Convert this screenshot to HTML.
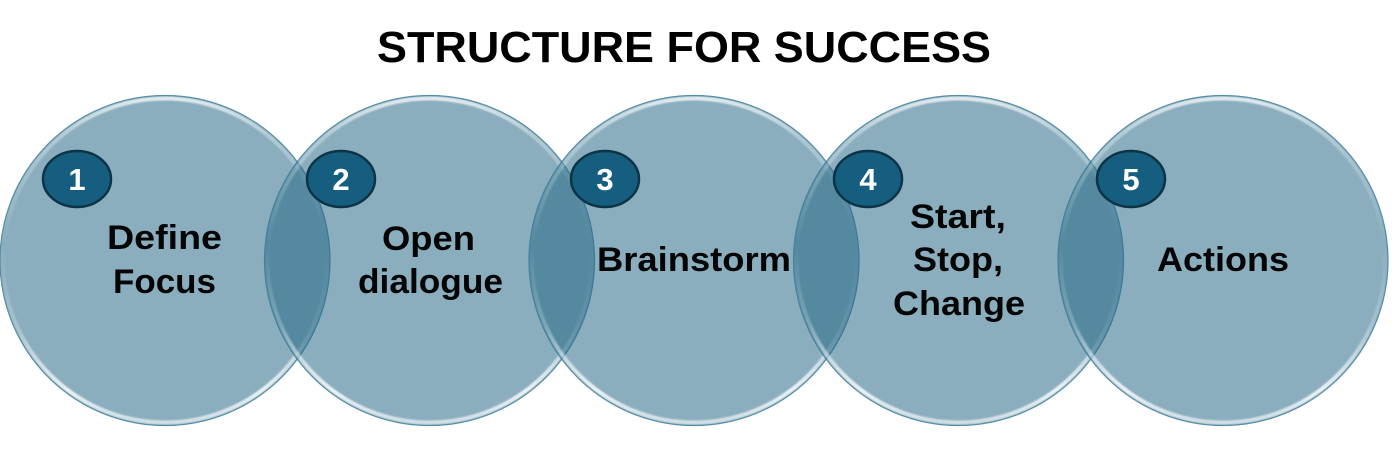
<!DOCTYPE html>
<html>
<head>
<meta charset="utf-8">
<style>
html,body{margin:0;padding:0;background:#fff;}
svg{display:block;}
</style>
</head>
<body>
<svg width="1392" height="454" viewBox="0 0 1392 454" xmlns="http://www.w3.org/2000/svg">
<defs>
<linearGradient id="rim" x1="0" y1="0" x2="0" y2="1">
<stop offset="0" stop-color="#ffffff" stop-opacity="0.75"/>
<stop offset="0.12" stop-color="#ffffff" stop-opacity="0.35"/>
<stop offset="0.45" stop-color="#ffffff" stop-opacity="0"/>
<stop offset="0.7" stop-color="#ffffff" stop-opacity="0.25"/>
<stop offset="0.9" stop-color="#ffffff" stop-opacity="0.85"/>
<stop offset="1" stop-color="#ffffff" stop-opacity="0.6"/>
</linearGradient>
<filter id="soft" x="-5%" y="-5%" width="110%" height="110%">
<feGaussianBlur stdDeviation="0.8"/>
</filter>
</defs>

<text x="377" y="62" font-family="Liberation Sans, Arial, sans-serif" font-weight="bold" font-size="44" textLength="614" lengthAdjust="spacingAndGlyphs" fill="#000">STRUCTURE FOR SUCCESS</text>

<g>
<circle cx="165" cy="260.5" r="165.5" fill="rgb(39,105,135)" fill-opacity="0.54"/>
<circle cx="165" cy="260.5" r="162" fill="none" stroke="url(#rim)" stroke-width="4" filter="url(#soft)"/>
<circle cx="165" cy="260.5" r="165" fill="none" stroke="rgba(60,125,155,0.7)" stroke-width="1.2"/>
</g>
<g>
<circle cx="429.5" cy="260.5" r="165.5" fill="rgb(39,105,135)" fill-opacity="0.54"/>
<circle cx="429.5" cy="260.5" r="162" fill="none" stroke="url(#rim)" stroke-width="4" filter="url(#soft)"/>
<circle cx="429.5" cy="260.5" r="165" fill="none" stroke="rgba(60,125,155,0.7)" stroke-width="1.2"/>
</g>
<g>
<circle cx="694" cy="260.5" r="165.5" fill="rgb(39,105,135)" fill-opacity="0.54"/>
<circle cx="694" cy="260.5" r="162" fill="none" stroke="url(#rim)" stroke-width="4" filter="url(#soft)"/>
<circle cx="694" cy="260.5" r="165" fill="none" stroke="rgba(60,125,155,0.7)" stroke-width="1.2"/>
</g>
<g>
<circle cx="958.5" cy="260.5" r="165.5" fill="rgb(39,105,135)" fill-opacity="0.54"/>
<circle cx="958.5" cy="260.5" r="162" fill="none" stroke="url(#rim)" stroke-width="4" filter="url(#soft)"/>
<circle cx="958.5" cy="260.5" r="165" fill="none" stroke="rgba(60,125,155,0.7)" stroke-width="1.2"/>
</g>
<g>
<circle cx="1223" cy="260.5" r="165.5" fill="rgb(39,105,135)" fill-opacity="0.54"/>
<circle cx="1223" cy="260.5" r="162" fill="none" stroke="url(#rim)" stroke-width="4" filter="url(#soft)"/>
<circle cx="1223" cy="260.5" r="165" fill="none" stroke="rgba(60,125,155,0.7)" stroke-width="1.2"/>
</g>

<g fill="#155e7f" stroke="#0d3446" stroke-width="2.5">
<ellipse cx="77" cy="179" rx="34" ry="28"/>
<ellipse cx="341" cy="179" rx="34" ry="28"/>
<ellipse cx="605" cy="179" rx="34" ry="28"/>
<ellipse cx="868" cy="179" rx="34" ry="28"/>
<ellipse cx="1131" cy="179" rx="34" ry="28"/>
</g>
<g font-family="Liberation Sans, Arial, sans-serif" font-weight="bold" font-size="31" fill="#fff" text-anchor="middle">
<text x="77" y="190">1</text>
<text x="341" y="190">2</text>
<text x="605" y="190">3</text>
<text x="868" y="190">4</text>
<text x="1131" y="190">5</text>
</g>

<g font-family="Liberation Sans, Arial, sans-serif" font-weight="bold" font-size="34" fill="#050505" lengthAdjust="spacingAndGlyphs">
<text x="107" y="249" textLength="115" lengthAdjust="spacingAndGlyphs">Define</text>
<text x="113" y="293" textLength="103" lengthAdjust="spacingAndGlyphs">Focus</text>
<text x="382" y="250" textLength="93" lengthAdjust="spacingAndGlyphs">Open</text>
<text x="358" y="293" textLength="145" lengthAdjust="spacingAndGlyphs">dialogue</text>
<text x="597" y="271" textLength="194" lengthAdjust="spacingAndGlyphs">Brainstorm</text>
<text x="910" y="228" textLength="96" lengthAdjust="spacingAndGlyphs">Start,</text>
<text x="913" y="271" textLength="90" lengthAdjust="spacingAndGlyphs">Stop,</text>
<text x="893" y="315" textLength="132" lengthAdjust="spacingAndGlyphs">Change</text>
<text x="1157" y="271" textLength="132" lengthAdjust="spacingAndGlyphs">Actions</text>
</g>
</svg>
</body>
</html>
